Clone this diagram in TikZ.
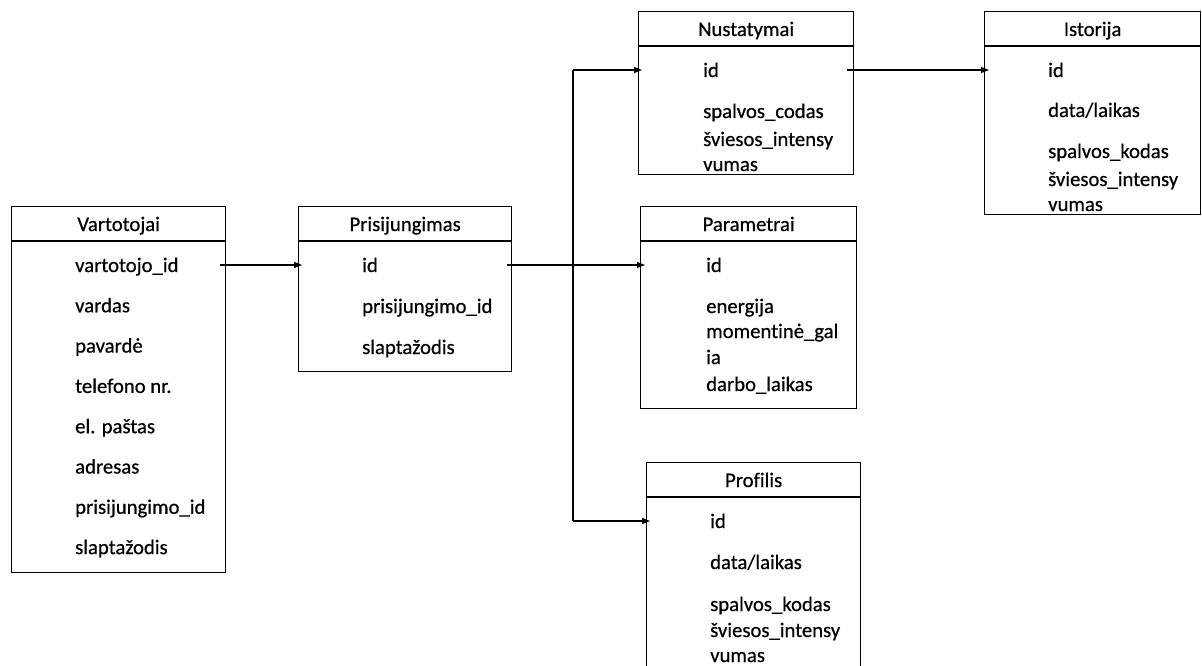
\documentclass[tikz,border=0pt]{standalone}
\usepackage{fontspec}
\setmainfont[Ligatures=NoCommon, FakeBold=0.6]{Carlito}
\usetikzlibrary{arrows.meta}
\begin{document}
\begin{tikzpicture}[x=1pt,y=-1pt,
  tbl/.style={draw, line width=1.3pt, rectangle, inner sep=0pt, anchor=north west},
  hrule/.style={line width=1.3pt},
  ttl/.style={anchor=base, inner sep=0pt, font=\fontsize{20.7}{24}\selectfont},
  fld/.style={anchor=base west, inner sep=0pt, font=\fontsize{20.7}{24}\selectfont},
  link/.style={line width=1.2pt, -{Triangle[length=8pt,width=6pt]}},
  wire/.style={line width=1.2pt}]

\useasboundingbox (0,0) rectangle (1202,666);
\clip (0,0) rectangle (1202,666);

% ---------- Vartotojai ----------
\node[tbl, minimum width=214pt, minimum height=366pt] (vart) at (11,206) {};
\draw[hrule] ([yshift=-35pt]vart.north west) -- ([yshift=-35pt]vart.north east);
\node[ttl] (vart-t) at ([yshift=-25pt]vart.north) {Vartotojai};
\node[fld] (vart-f1) at (75,272) {vartotojo\_id};
\node[fld] (vart-f2) at (75,312.3) {vardas};
\node[fld] (vart-f3) at (75,352.6) {pavardė};
\node[fld] (vart-f4) at (75,392.9) {telefono nr.};
\node[fld] (vart-f5) at (75,433.2) {el. paštas};
\node[fld] (vart-f6) at (75,473.5) {adresas};
\node[fld] (vart-f7) at (75,513.8) {prisijungimo\_id};
\node[fld] (vart-f8) at (75,554.1) {slaptažodis};

% ---------- Prisijungimas ----------
\node[tbl, minimum width=213pt, minimum height=165pt] (pris) at (298,206) {};
\draw[hrule] ([yshift=-35pt]pris.north west) -- ([yshift=-35pt]pris.north east);
\node[ttl] (pris-t) at ([yshift=-25pt]pris.north) {Prisijungimas};
\node[fld] (pris-f1) at (362,272) {id};
\node[fld] (pris-f2) at (362,313) {prisijungimo\_id};
\node[fld] (pris-f3) at (362,354) {slaptažodis};

% ---------- Nustatymai ----------
\node[tbl, minimum width=215pt, minimum height=163pt] (nust) at (638,11) {};
\draw[hrule] ([yshift=-35pt]nust.north west) -- ([yshift=-35pt]nust.north east);
\node[ttl] (nust-t) at ([yshift=-25pt]nust.north) {Nustatymai};
\node[fld] (nust-f1) at (703,77) {id};
\node[fld] (nust-f2) at (703,118) {spalvos\_codas};
\node[fld] (nust-f3) at (703,146) {šviesos\_intensy};
\node[fld] (nust-f4) at (703,171) {vumas};

% ---------- Istorija ----------
\node[tbl, minimum width=216pt, minimum height=203pt] (ist) at (984,11) {};
\draw[hrule] ([yshift=-35pt]ist.north west) -- ([yshift=-35pt]ist.north east);
\node[ttl] (ist-t) at ([yshift=-25pt]ist.north) {Istorija};
\node[fld] (ist-f1) at (1048,77) {id};
\node[fld] (ist-f2) at (1048,117) {data/laikas};
\node[fld] (ist-f3) at (1048,158) {spalvos\_kodas};
\node[fld] (ist-f4) at (1048,186) {šviesos\_intensy};
\node[fld] (ist-f5) at (1048,211) {vumas};

% ---------- Parametrai ----------
\node[tbl, minimum width=216pt, minimum height=202pt] (para) at (640,206) {};
\draw[hrule] ([yshift=-35pt]para.north west) -- ([yshift=-35pt]para.north east);
\node[ttl] (para-t) at ([yshift=-25pt]para.north) {Parametrai};
\node[fld] (para-f1) at (706,272) {id};
\node[fld] (para-f2) at (706,313) {energija};
\node[fld] (para-f3) at (706,338) {momentinė\_gal};
\node[fld] (para-f4) at (706,364) {ia};
\node[fld] (para-f5) at (706,391) {darbo\_laikas};

% ---------- Profilis ----------
\node[tbl, minimum width=214pt, minimum height=230pt] (prof) at (646,462) {};
\draw[hrule] ([yshift=-35pt]prof.north west) -- ([yshift=-35pt]prof.north east);
\node[ttl] (prof-t) at ([yshift=-25pt]prof.north) {Profilis};
\node[fld] (prof-f1) at (710,528) {id};
\node[fld] (prof-f2) at (710,569) {data/laikas};
\node[fld] (prof-f3) at (710,611) {spalvos\_kodas};
\node[fld] (prof-f4) at (710,637) {šviesos\_intensy};
\node[fld] (prof-f5) at (710,662) {vumas};

% ---------- connector ports ----------
\coordinate (vart-out) at (220,265);
\coordinate (pris-in)  at (302,265);
\coordinate (pris-out) at (507,265);
\coordinate (para-in)  at (645,265);
\coordinate (hub-top)  at (573,70);
\coordinate (hub-bot)  at (573,521);
\coordinate (nust-in)  at (642,70);
\coordinate (prof-in)  at (650,521);
\coordinate (nust-out) at (847,70);
\coordinate (ist-in)   at (989,70);

% ---------- connectors ----------
\draw[link] (vart-out) -- (pris-in);
\draw[link] (pris-out) -- (para-in);
\draw[wire] (hub-top) -- (hub-bot);
\draw[link] (hub-top) -- (nust-in);
\draw[link] (hub-bot) -- (prof-in);
\draw[link] (nust-out) -- (ist-in);

\end{tikzpicture}
\end{document}
